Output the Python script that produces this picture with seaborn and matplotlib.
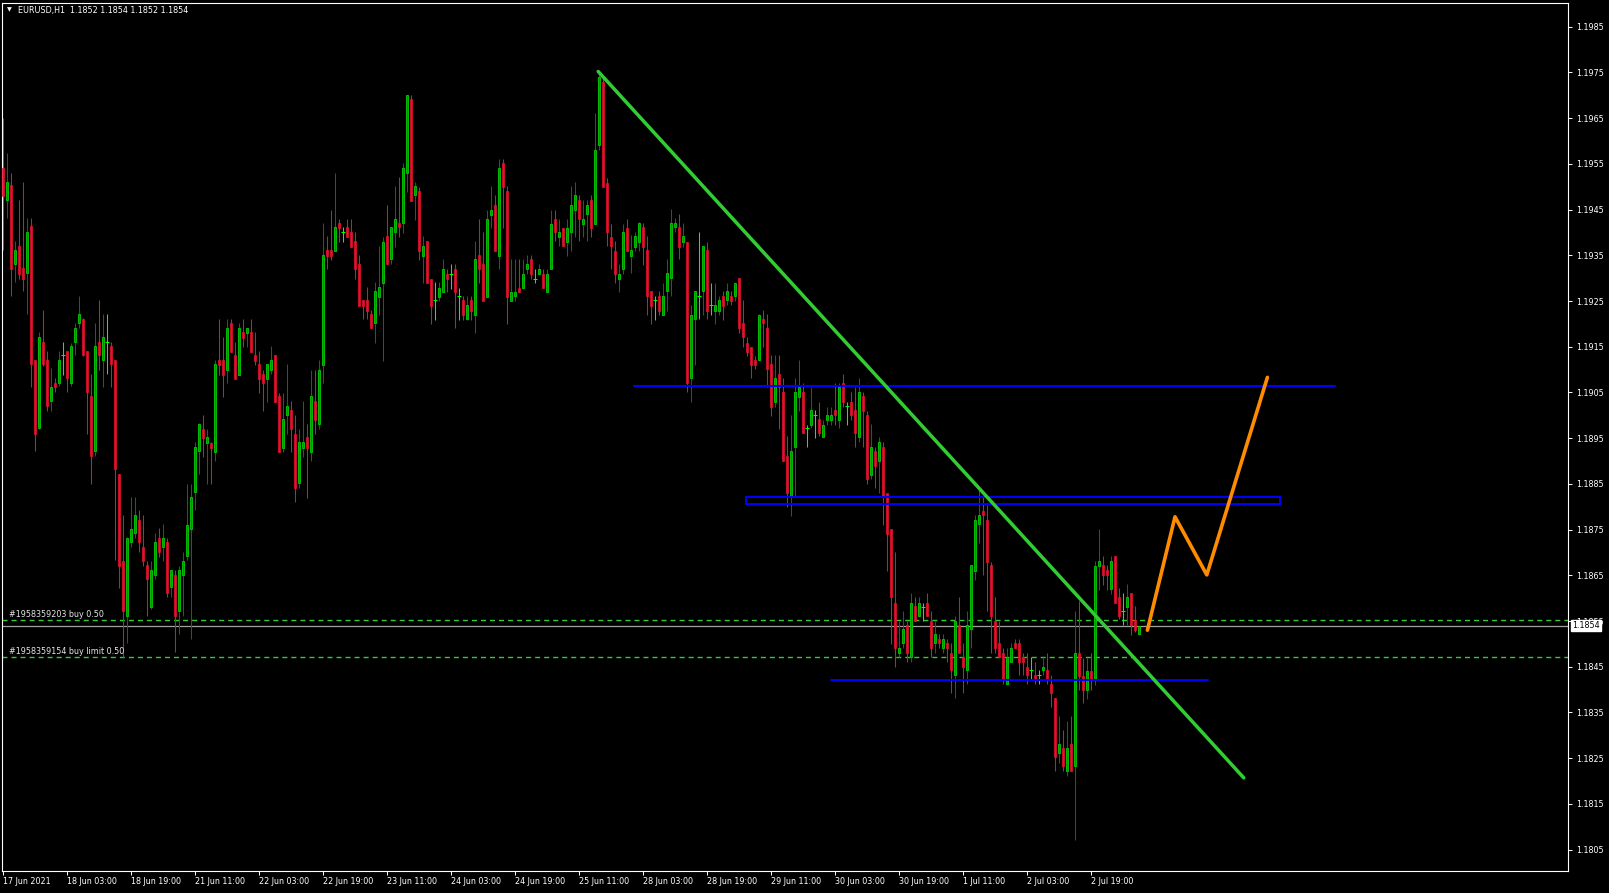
import numpy as np
import pandas as pd
import matplotlib
matplotlib.use("Agg")
import matplotlib.pyplot as plt
from matplotlib.patches import Rectangle
import seaborn as sns

# EURUSD H1 bars, first bar 17 Jun 2021 11:00
opens = [
    1.19542, 1.19470, 1.19503, 1.19331, 1.19371, 1.19323, 1.19311, 1.19413, 1.19121, 1.18973,
    1.19160, 1.19121, 1.19032, 1.19071, 1.19071, 1.19132, 1.19140, 1.19071, 1.19160, 1.19202,
    1.19210, 1.19140, 1.19042, 1.18921, 1.19160, 1.19121, 1.19160, 1.19151, 1.19120, 1.18871,
    1.18681, 1.18561, 1.18722, 1.18743, 1.18772, 1.18712, 1.18673, 1.18581, 1.18651, 1.18731,
    1.18712, 1.18722, 1.18624, 1.18651, 1.18571, 1.18651, 1.18692, 1.18751, 1.18832, 1.18921,
    1.18971, 1.18940, 1.18940, 1.18920, 1.19121, 1.19121, 1.19100, 1.19201, 1.19132, 1.19088,
    1.19183, 1.19180, 1.19183, 1.19132, 1.19112, 1.19090, 1.19080, 1.19100, 1.19132, 1.19042,
    1.18929, 1.19000, 1.19011, 1.18960, 1.18851, 1.18929, 1.18952, 1.18920, 1.19032, 1.18981,
    1.19110, 1.19361, 1.19361, 1.19360, 1.19421, 1.19401, 1.19412, 1.19401, 1.19381, 1.19331,
    1.19252, 1.19252, 1.19221, 1.19201, 1.19259, 1.19290, 1.19392, 1.19341, 1.19401, 1.19420,
    1.19420, 1.19529, 1.19691, 1.19482, 1.19490, 1.19349, 1.19381, 1.19299, 1.19252, 1.19259,
    1.19270, 1.19310, 1.19310, 1.19321, 1.19261, 1.19252, 1.19210, 1.19252, 1.19220, 1.19350,
    1.19330, 1.19259, 1.19439, 1.19460, 1.19349, 1.19551, 1.19490, 1.19250, 1.19261, 1.19279,
    1.19279, 1.19321, 1.19341, 1.19299, 1.19310, 1.19310, 1.19270, 1.19321, 1.19430, 1.19390,
    1.19410, 1.19379, 1.19400, 1.19450, 1.19470, 1.19419, 1.19440, 1.19470, 1.19419, 1.19591,
    1.19730, 1.19509, 1.19390, 1.19360, 1.19299, 1.19319, 1.19410, 1.19349, 1.19369, 1.19380,
    1.19411, 1.19362, 1.19271, 1.19252, 1.19261, 1.19220, 1.19271, 1.19300, 1.19411, 1.19411,
    1.19380, 1.19380, 1.19081, 1.19210, 1.19261, 1.19271, 1.19362, 1.19242, 1.19229, 1.19229,
    1.19261, 1.19252, 1.19261, 1.19260, 1.19300, 1.19201, 1.19159, 1.19150, 1.19120, 1.19120,
    1.19210, 1.19190, 1.19112, 1.19030, 1.19091, 1.19052, 1.18911, 1.18822, 1.18930, 1.19041,
    1.19052, 1.18972, 1.18979, 1.19001, 1.18991, 1.18952, 1.18990, 1.18990, 1.19012, 1.18990,
    1.19070, 1.19021, 1.19030, 1.19012, 1.18952, 1.19042, 1.19001, 1.18870, 1.18921, 1.18901,
    1.18930, 1.18831, 1.18751, 1.18590, 1.18481, 1.18501, 1.18541, 1.18471, 1.18582, 1.18561,
    1.18580, 1.18590, 1.18551, 1.18501, 1.18510, 1.18490, 1.18501, 1.18481, 1.18432, 1.18541,
    1.18471, 1.18442, 1.18532, 1.18660, 1.18762, 1.18791, 1.18771, 1.18673, 1.18551, 1.18501,
    1.18481, 1.18412, 1.18461, 1.18501, 1.18501, 1.18471, 1.18450, 1.18442, 1.18432, 1.18432,
    1.18442, 1.18442, 1.18412, 1.18381, 1.18261, 1.18272, 1.18221, 1.18281, 1.18232, 1.18481,
    1.18430, 1.18400, 1.18440, 1.18420, 1.18671, 1.18673, 1.18662, 1.18620, 1.18693, 1.18602,
    1.18572, 1.18580, 1.18611, 1.18553, 1.18522,
]
highs = [
    1.19651, 1.19573, 1.19530, 1.19381, 1.19471, 1.19510, 1.19432, 1.19432, 1.19121, 1.19182,
    1.19231, 1.19141, 1.19103, 1.19081, 1.19141, 1.19160, 1.19141, 1.19159, 1.19202, 1.19260,
    1.19212, 1.19141, 1.19090, 1.19202, 1.19253, 1.19221, 1.19221, 1.19160, 1.19121, 1.18871,
    1.18782, 1.18733, 1.18822, 1.18822, 1.18792, 1.18782, 1.18681, 1.18681, 1.18743, 1.18753,
    1.18762, 1.18731, 1.18662, 1.18661, 1.18671, 1.18702, 1.18850, 1.18850, 1.18942, 1.18983,
    1.19000, 1.18971, 1.18942, 1.19121, 1.19210, 1.19172, 1.19210, 1.19210, 1.19161, 1.19202,
    1.19210, 1.19190, 1.19210, 1.19183, 1.19141, 1.19100, 1.19112, 1.19151, 1.19132, 1.19049,
    1.19049, 1.19112, 1.19032, 1.19000, 1.18971, 1.19032, 1.18981, 1.19100, 1.19100, 1.19121,
    1.19420, 1.19392, 1.19450, 1.19529, 1.19430, 1.19412, 1.19430, 1.19430, 1.19401, 1.19350,
    1.19252, 1.19280, 1.19230, 1.19292, 1.19370, 1.19390, 1.19460, 1.19392, 1.19501, 1.19522,
    1.19551, 1.19700, 1.19700, 1.19511, 1.19500, 1.19392, 1.19381, 1.19299, 1.19291, 1.19291,
    1.19341, 1.19321, 1.19330, 1.19330, 1.19279, 1.19261, 1.19261, 1.19261, 1.19381, 1.19430,
    1.19400, 1.19450, 1.19501, 1.19481, 1.19560, 1.19560, 1.19501, 1.19341, 1.19341, 1.19341,
    1.19341, 1.19350, 1.19350, 1.19321, 1.19330, 1.19321, 1.19321, 1.19450, 1.19450, 1.19430,
    1.19410, 1.19430, 1.19501, 1.19511, 1.19481, 1.19470, 1.19470, 1.19481, 1.19662, 1.19751,
    1.19741, 1.19520, 1.19419, 1.19381, 1.19330, 1.19419, 1.19430, 1.19395, 1.19402, 1.19422,
    1.19420, 1.19392, 1.19271, 1.19261, 1.19271, 1.19290, 1.19341, 1.19451, 1.19431, 1.19441,
    1.19420, 1.19380, 1.19242, 1.19271, 1.19400, 1.19371, 1.19380, 1.19290, 1.19290, 1.19261,
    1.19271, 1.19290, 1.19271, 1.19290, 1.19300, 1.19252, 1.19171, 1.19150, 1.19130, 1.19222,
    1.19231, 1.19222, 1.19132, 1.19132, 1.19132, 1.19081, 1.18954, 1.19001, 1.19081, 1.19121,
    1.19070, 1.18979, 1.19061, 1.19012, 1.19030, 1.18990, 1.19019, 1.19019, 1.19070, 1.19070,
    1.19091, 1.19030, 1.19052, 1.19061, 1.19081, 1.19050, 1.19010, 1.18981, 1.18930, 1.18952,
    1.18942, 1.18831, 1.18751, 1.18700, 1.18551, 1.18571, 1.18551, 1.18611, 1.18602, 1.18602,
    1.18590, 1.18611, 1.18571, 1.18551, 1.18522, 1.18522, 1.18510, 1.18501, 1.18561, 1.18602,
    1.18501, 1.18571, 1.18673, 1.18782, 1.18840, 1.18821, 1.18804, 1.18680, 1.18602, 1.18551,
    1.18490, 1.18490, 1.18501, 1.18510, 1.18510, 1.18481, 1.18481, 1.18471, 1.18461, 1.18442,
    1.18471, 1.18481, 1.18432, 1.18381, 1.18342, 1.18312, 1.18332, 1.18342, 1.18573, 1.18593,
    1.18470, 1.18470, 1.18480, 1.18682, 1.18752, 1.18693, 1.18673, 1.18693, 1.18693, 1.18622,
    1.18611, 1.18631, 1.18611, 1.18582, 1.18540,
]
lows = [
    1.19362, 1.19432, 1.19260, 1.19292, 1.19299, 1.19271, 1.19221, 1.19061, 1.18921, 1.18971,
    1.19108, 1.19010, 1.19010, 1.19050, 1.19065, 1.19089, 1.19050, 1.19065, 1.19132, 1.19190,
    1.19130, 1.18960, 1.18850, 1.18911, 1.19100, 1.19061, 1.19090, 1.19061, 1.18683, 1.18622,
    1.18472, 1.18503, 1.18712, 1.18731, 1.18702, 1.18671, 1.18561, 1.18577, 1.18643, 1.18690,
    1.18681, 1.18603, 1.18603, 1.18483, 1.18522, 1.18561, 1.18683, 1.18510, 1.18792, 1.18871,
    1.18909, 1.18849, 1.18849, 1.18900, 1.19088, 1.19040, 1.19070, 1.19139, 1.19079, 1.19088,
    1.19150, 1.19150, 1.19139, 1.19110, 1.19049, 1.19010, 1.19030, 1.19090, 1.19030, 1.18920,
    1.18920, 1.18959, 1.18920, 1.18811, 1.18840, 1.18909, 1.18820, 1.18900, 1.18959, 1.18971,
    1.19070, 1.19321, 1.19339, 1.19360, 1.19379, 1.19379, 1.19390, 1.19368, 1.19298, 1.19239,
    1.19210, 1.19210, 1.19190, 1.19159, 1.19219, 1.19118, 1.19330, 1.19330, 1.19368, 1.19390,
    1.19399, 1.19489, 1.19469, 1.19428, 1.19339, 1.19290, 1.19290, 1.19200, 1.19208, 1.19250,
    1.19270, 1.19269, 1.19277, 1.19190, 1.19208, 1.19208, 1.19208, 1.19208, 1.19180, 1.19290,
    1.19250, 1.19259, 1.19410, 1.19360, 1.19319, 1.19410, 1.19200, 1.19250, 1.19250, 1.19270,
    1.19279, 1.19310, 1.19299, 1.19290, 1.19310, 1.19279, 1.19270, 1.19321, 1.19381, 1.19370,
    1.19370, 1.19349, 1.19360, 1.19390, 1.19381, 1.19390, 1.19381, 1.19390, 1.19419, 1.19580,
    1.19500, 1.19370, 1.19319, 1.19290, 1.19270, 1.19310, 1.19360, 1.19311, 1.19360, 1.19360,
    1.19329, 1.19220, 1.19200, 1.19209, 1.19220, 1.19220, 1.19229, 1.19260, 1.19402, 1.19341,
    1.19369, 1.19050, 1.19030, 1.19110, 1.19210, 1.19220, 1.19210, 1.19220, 1.19200, 1.19220,
    1.19209, 1.19242, 1.19242, 1.19251, 1.19181, 1.19150, 1.19130, 1.19081, 1.19101, 1.19120,
    1.19150, 1.19061, 1.18999, 1.19019, 1.18970, 1.18901, 1.18800, 1.18780, 1.18822, 1.19010,
    1.18961, 1.18930, 1.18972, 1.18950, 1.18954, 1.18952, 1.18979, 1.18979, 1.18979, 1.18972,
    1.19019, 1.18979, 1.18990, 1.18930, 1.18942, 1.18930, 1.18850, 1.18860, 1.18840, 1.18829,
    1.18760, 1.18660, 1.18500, 1.18450, 1.18471, 1.18490, 1.18461, 1.18461, 1.18551, 1.18561,
    1.18551, 1.18561, 1.18471, 1.18481, 1.18490, 1.18481, 1.18461, 1.18392, 1.18381, 1.18481,
    1.18392, 1.18412, 1.18490, 1.18640, 1.18720, 1.18651, 1.18571, 1.18481, 1.18481, 1.18471,
    1.18412, 1.18412, 1.18461, 1.18490, 1.18432, 1.18432, 1.18412, 1.18421, 1.18412, 1.18412,
    1.18432, 1.18412, 1.18361, 1.18221, 1.18240, 1.18221, 1.18211, 1.18221, 1.18071, 1.18400,
    1.18370, 1.18380, 1.18400, 1.18410, 1.18618, 1.18629, 1.18618, 1.18610, 1.18590, 1.18555,
    1.18542, 1.18542, 1.18520, 1.18525, 1.18520,
]
closes = [
    1.19479, 1.19510, 1.19321, 1.19362, 1.19310, 1.19299, 1.19401, 1.19112, 1.18960, 1.19171,
    1.19112, 1.19020, 1.19061, 1.19061, 1.19121, 1.19132, 1.19081, 1.19151, 1.19192, 1.19221,
    1.19132, 1.19051, 1.18911, 1.19151, 1.19132, 1.19171, 1.19160, 1.19112, 1.18882, 1.18671,
    1.18571, 1.18731, 1.18751, 1.18782, 1.18722, 1.18681, 1.18642, 1.18661, 1.18722, 1.18702,
    1.18731, 1.18612, 1.18661, 1.18561, 1.18661, 1.18681, 1.18760, 1.18822, 1.18931, 1.18981,
    1.18951, 1.18952, 1.18929, 1.19112, 1.19110, 1.19088, 1.19190, 1.19139, 1.19079, 1.19190,
    1.19170, 1.19190, 1.19139, 1.19119, 1.19079, 1.19070, 1.19112, 1.19121, 1.19030, 1.18920,
    1.18991, 1.19020, 1.18971, 1.18840, 1.18941, 1.18941, 1.18929, 1.19042, 1.18989, 1.19100,
    1.19350, 1.19349, 1.19349, 1.19412, 1.19409, 1.19401, 1.19390, 1.19368, 1.19321, 1.19239,
    1.19239, 1.19229, 1.19190, 1.19272, 1.19280, 1.19379, 1.19330, 1.19411, 1.19430, 1.19411,
    1.19540, 1.19700, 1.19469, 1.19501, 1.19360, 1.19370, 1.19290, 1.19239, 1.19252, 1.19279,
    1.19321, 1.19298, 1.19310, 1.19270, 1.19261, 1.19219, 1.19241, 1.19229, 1.19341, 1.19319,
    1.19250, 1.19430, 1.19450, 1.19360, 1.19540, 1.19500, 1.19259, 1.19270, 1.19270, 1.19270,
    1.19310, 1.19330, 1.19310, 1.19299, 1.19321, 1.19279, 1.19310, 1.19419, 1.19400, 1.19400,
    1.19370, 1.19410, 1.19460, 1.19481, 1.19430, 1.19430, 1.19460, 1.19410, 1.19580, 1.19741,
    1.19500, 1.19400, 1.19370, 1.19310, 1.19310, 1.19400, 1.19360, 1.19362, 1.19392, 1.19420,
    1.19369, 1.19260, 1.19240, 1.19252, 1.19229, 1.19261, 1.19311, 1.19420, 1.19420, 1.19369,
    1.19392, 1.19070, 1.19220, 1.19271, 1.19261, 1.19371, 1.19229, 1.19242, 1.19242, 1.19252,
    1.19240, 1.19271, 1.19251, 1.19290, 1.19190, 1.19171, 1.19139, 1.19110, 1.19110, 1.19220,
    1.19201, 1.19101, 1.19019, 1.19081, 1.19061, 1.18901, 1.18831, 1.18921, 1.19052, 1.19061,
    1.18961, 1.18972, 1.19012, 1.19001, 1.18961, 1.18979, 1.19001, 1.19001, 1.19001, 1.19061,
    1.19030, 1.19021, 1.19001, 1.18961, 1.19050, 1.19010, 1.18860, 1.18930, 1.18889, 1.18942,
    1.18821, 1.18740, 1.18602, 1.18490, 1.18490, 1.18532, 1.18481, 1.18590, 1.18551, 1.18590,
    1.18580, 1.18561, 1.18490, 1.18522, 1.18501, 1.18510, 1.18490, 1.18442, 1.18551, 1.18481,
    1.18450, 1.18541, 1.18673, 1.18771, 1.18782, 1.18782, 1.18680, 1.18561, 1.18490, 1.18471,
    1.18421, 1.18471, 1.18490, 1.18490, 1.18461, 1.18461, 1.18432, 1.18442, 1.18421, 1.18432,
    1.18450, 1.18421, 1.18392, 1.18252, 1.18281, 1.18232, 1.18272, 1.18221, 1.18481, 1.18430,
    1.18400, 1.18440, 1.18420, 1.18671, 1.18682, 1.18650, 1.18650, 1.18682, 1.18590, 1.18560,
    1.18572, 1.18602, 1.18542, 1.18531, 1.18540,
]

# time axis labels, one every 16 bars
tick_bars = list(range(0, 273, 16))
tick_labels = ["17 Jun 2021", "18 Jun 03:00", "18 Jun 19:00", "21 Jun 11:00", "22 Jun 03:00",
               "22 Jun 19:00", "23 Jun 11:00", "24 Jun 03:00", "24 Jun 19:00", "25 Jun 11:00",
               "28 Jun 03:00", "28 Jun 19:00", "29 Jun 11:00", "30 Jun 03:00", "30 Jun 19:00",
               "1 Jul 11:00", "2 Jul 03:00", "2 Jul 19:00"]
price_ticks = [1.1805 + 0.001 * k for k in range(19)]

# drawn objects (bar index, price)
trend_x = [148.8, 310.2]
trend_y = [1.19752, 1.18207]
path_x = [286.1, 293.0, 300.95, 316.1]
path_y = [1.18530, 1.18778, 1.18651, 1.19083]
upper_level = (157.75, 333.0, 1.19064)
lower_level = (207.0, 301.2, 1.18420)
zone = (185.8, 319.2, 1.18805, 1.18822)
orders = [("#1958359203 buy 0.50", 1.18552), ("#1958359154 buy limit 0.50", 1.18471)]
bid = 1.1854
header = "EURUSD,H1  1.1852 1.1854 1.1852 1.1854"

df = pd.DataFrame({"open": opens, "high": highs, "low": lows, "close": closes})
df["bar"] = np.arange(len(df))
up = df[df.close > df.open + 1e-6]
down = df[df.close < df.open - 1e-6]
flat = df[(df.close - df.open).abs() <= 1e-6]

sns.set_theme(style="dark", rc={"axes.facecolor": "black", "figure.facecolor": "black",
                                "axes.edgecolor": "white", "axes.grid": False})
plt.rcParams["font.family"] = ["DejaVu Sans"]

BULL_FILL = "#008c00"
BULL_EDGE = "#00d000"
BULL_WICK = "#007800"
BEAR = "#e8112d"
DOJI = "#00ff00"
FS = 5.8

fig = plt.figure(figsize=(16.09, 8.93), dpi=100)
ax = fig.add_axes([2 / 1609, 22 / 893, 1566 / 1609, 868 / 893])

# order lines and bid line behind the bars
for text, price in orders:
    ax.axhline(price, color="#32cd32", lw=1.0, dashes=(3.6, 2.9), zorder=1)
    ax.text(1.5, price + 0.000066, text, color="#e6e6e6", fontsize=FS, va="baseline", zorder=5)
ax.axhline(bid, color="#a0a0a0", lw=0.9, zorder=1)

# candles
ax.vlines(up.bar, up.low, up.high, color=BULL_WICK, lw=0.75, zorder=2)
ax.vlines(down.bar, down.low, down.high, color=BEAR, lw=0.75, zorder=2)
ax.vlines(flat.bar, flat.low, flat.high, color=DOJI, lw=0.75, zorder=2)
ax.bar(up.bar, up.close - up.open, bottom=up.open, width=0.6,
       color=BULL_FILL, edgecolor=BULL_EDGE, linewidth=0.6, zorder=3)
ax.bar(down.bar, down.open - down.close, bottom=down.close, width=0.62,
       color=BEAR, edgecolor=BEAR, linewidth=0.5, zorder=3)
ax.hlines(flat.open, flat.bar - 0.45, flat.bar + 0.45, color=DOJI, lw=0.75, zorder=3)

# analysis objects
ax.plot(upper_level[:2], [upper_level[2]] * 2, color="#0000ff", lw=1.5, zorder=4)
ax.plot(lower_level[:2], [lower_level[2]] * 2, color="#0000ff", lw=1.4, zorder=4)
ax.add_patch(Rectangle((zone[0], zone[2]), zone[1] - zone[0], zone[3] - zone[2],
                       fill=False, edgecolor="#0000ff", lw=1.4, zorder=4))
sns.lineplot(x=trend_x, y=trend_y, ax=ax, color="#32cd32", linewidth=2.5,
             estimator=None, sort=False, zorder=5)
sns.lineplot(x=path_x, y=path_y, ax=ax, color="#ff8c00", linewidth=2.6,
             estimator=None, sort=False, zorder=5)

ax.set_xlim(-0.25, 391.25)
ax.set_ylim(1.180033, 1.199018)
ax.set_xlabel("")
ax.set_ylabel("")

ax.set_xticks(tick_bars)
ax.set_xticklabels(tick_labels, ha="left")
ax.yaxis.tick_right()
ax.set_yticks(price_ticks)
ax.set_yticklabels([f"{p:.4f}" for p in price_ticks])
ax.tick_params(axis="x", colors="white", length=3, width=0.7, labelsize=FS, pad=1.5,
               direction="out", bottom=True)
ax.tick_params(axis="y", colors="white", length=3, width=0.7, labelsize=FS, pad=3,
               direction="out", right=True, left=False)
for side in ax.spines.values():
    side.set_color("white")
    side.set_linewidth(0.8)

# current bid marker on the price scale
ax.annotate(f"{bid:.4f}", xy=(1.0, bid), xycoords=("axes fraction", "data"),
            xytext=(3, 0), textcoords="offset points", ha="left", va="center",
            fontsize=FS, color="black", annotation_clip=False, zorder=10,
            bbox=dict(boxstyle="square,pad=0.15", fc="white", ec="white"))

# symbol header
fig.text(7 / 1609, 1 - 10 / 893, "\u25bc", color="white", fontsize=4.5, va="center")
fig.text(18 / 1609, 1 - 10 / 893, header, color="white", fontsize=FS, va="center")

fig.savefig("out.png", dpi=100, facecolor="black")
